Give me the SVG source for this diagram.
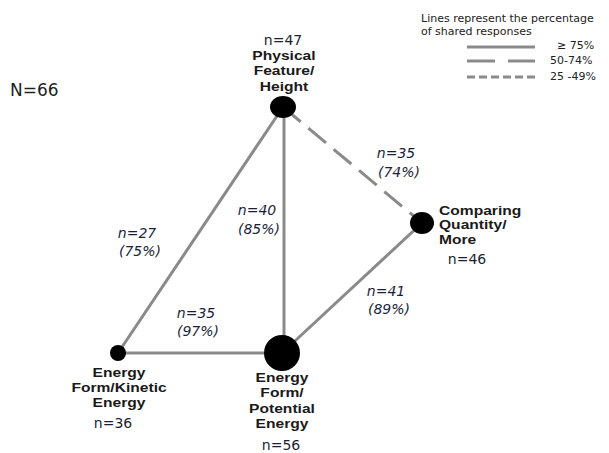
<svg xmlns="http://www.w3.org/2000/svg" width="609" height="453" viewBox="0 0 609 453">
<style>
.edge{stroke:#8a8a8a;stroke-width:3;fill:none}
.dash{stroke-dasharray:23,10}
.sdash{stroke-dasharray:8,4}
.node{fill:#000}
.lbl{font-family:"Liberation Sans",Arial,sans-serif;font-size:13px;font-weight:bold;fill:#1a1a1a;text-anchor:middle}
.cnt{font-family:"DejaVu Sans",Verdana,sans-serif;font-size:14px;fill:#1a1f33;text-anchor:middle}
.el{font-family:"DejaVu Sans",Verdana,sans-serif;font-size:14px;font-style:italic;fill:#1a1f3a;text-anchor:middle}
.leg{font-family:"DejaVu Sans",Verdana,sans-serif;font-size:11px;fill:#222}
</style>
<rect width="609" height="453" fill="#fff"/>
<g id="connectors">
<line class="edge" x1="283" y1="107" x2="118" y2="353"/>
<line class="edge" x1="284" y1="107" x2="284" y2="353"/>
<line class="edge dash" x1="283" y1="107" x2="422" y2="223"/>
<line class="edge" x1="422" y1="223" x2="282" y2="353"/>
<line class="edge" x1="118" y1="353" x2="282" y2="353"/>
<text class="el" x="137" y="238">n=27</text>
<text class="el" x="140" y="256">(75%)</text>
<text class="el" x="257" y="215">n=40</text>
<text class="el" x="259" y="234">(85%)</text>
<text class="el" x="396" y="158">n=35</text>
<text class="el" x="399" y="177">(74%)</text>
<text class="el" x="386" y="296">n=41</text>
<text class="el" x="389" y="314">(89%)</text>
<text class="el" x="196" y="318">n=35</text>
<text class="el" x="198" y="336">(97%)</text>
</g>
<g id="physical">
<ellipse class="node" cx="283" cy="107" rx="13" ry="11"/>
<text class="cnt" x="283" y="45">n=47</text>
<text class="lbl" transform="translate(284,60) scale(1.2,1)">Physical</text>
<text class="lbl" transform="translate(284,75) scale(1.2,1)">Feature/</text>
<text class="lbl" transform="translate(284,91) scale(1.2,1)">Height</text>
</g>
<g id="comparing">
<ellipse class="node" cx="422" cy="223" rx="12" ry="11"/>
<text class="lbl" style="text-anchor:start" transform="translate(439,215) scale(1.2,1)">Comparing</text>
<text class="lbl" style="text-anchor:start" transform="translate(439,229) scale(1.2,1)">Quantity/</text>
<text class="lbl" style="text-anchor:start" transform="translate(439,244) scale(1.2,1)">More</text>
<text class="cnt" x="467" y="264">n=46</text>
</g>
<g id="kinetic">
<circle class="node" cx="118" cy="353" r="8"/>
<text class="lbl" transform="translate(119,377) scale(1.2,1)">Energy</text>
<text class="lbl" transform="translate(119,392) scale(1.2,1)">Form/Kinetic</text>
<text class="lbl" transform="translate(119,407) scale(1.2,1)">Energy</text>
<text class="cnt" x="113" y="428">n=36</text>
</g>
<g id="potential">
<circle class="node" cx="282" cy="353" r="18"/>
<text class="lbl" transform="translate(282,382) scale(1.2,1)">Energy</text>
<text class="lbl" transform="translate(282,397) scale(1.2,1)">Form/</text>
<text class="lbl" transform="translate(282,413) scale(1.2,1)">Potential</text>
<text class="lbl" transform="translate(282,428) scale(1.2,1)">Energy</text>
<text class="cnt" x="281" y="450">n=56</text>
</g>
<g id="total">
<text x="10" y="96" style="font-family:'DejaVu Sans',Verdana,sans-serif;font-size:17px;fill:#222">N=66</text>
</g>
<g id="legend">
<text class="leg" x="421" y="22">Lines represent the percentage</text>
<text class="leg" x="421" y="35">of shared responses</text>
<line class="edge" x1="467" y1="47" x2="535" y2="47"/>
<line class="edge" x1="467" y1="61" x2="495" y2="61"/>
<line class="edge" x1="508" y1="61" x2="535" y2="61"/>
<line class="edge sdash" x1="467" y1="77" x2="535" y2="77"/>
<text class="leg" x="557" y="49">≥ 75%</text>
<text class="leg" x="550" y="64">50-74%</text>
<text class="leg" x="550" y="80">25 -49%</text>
</g>
</svg>
